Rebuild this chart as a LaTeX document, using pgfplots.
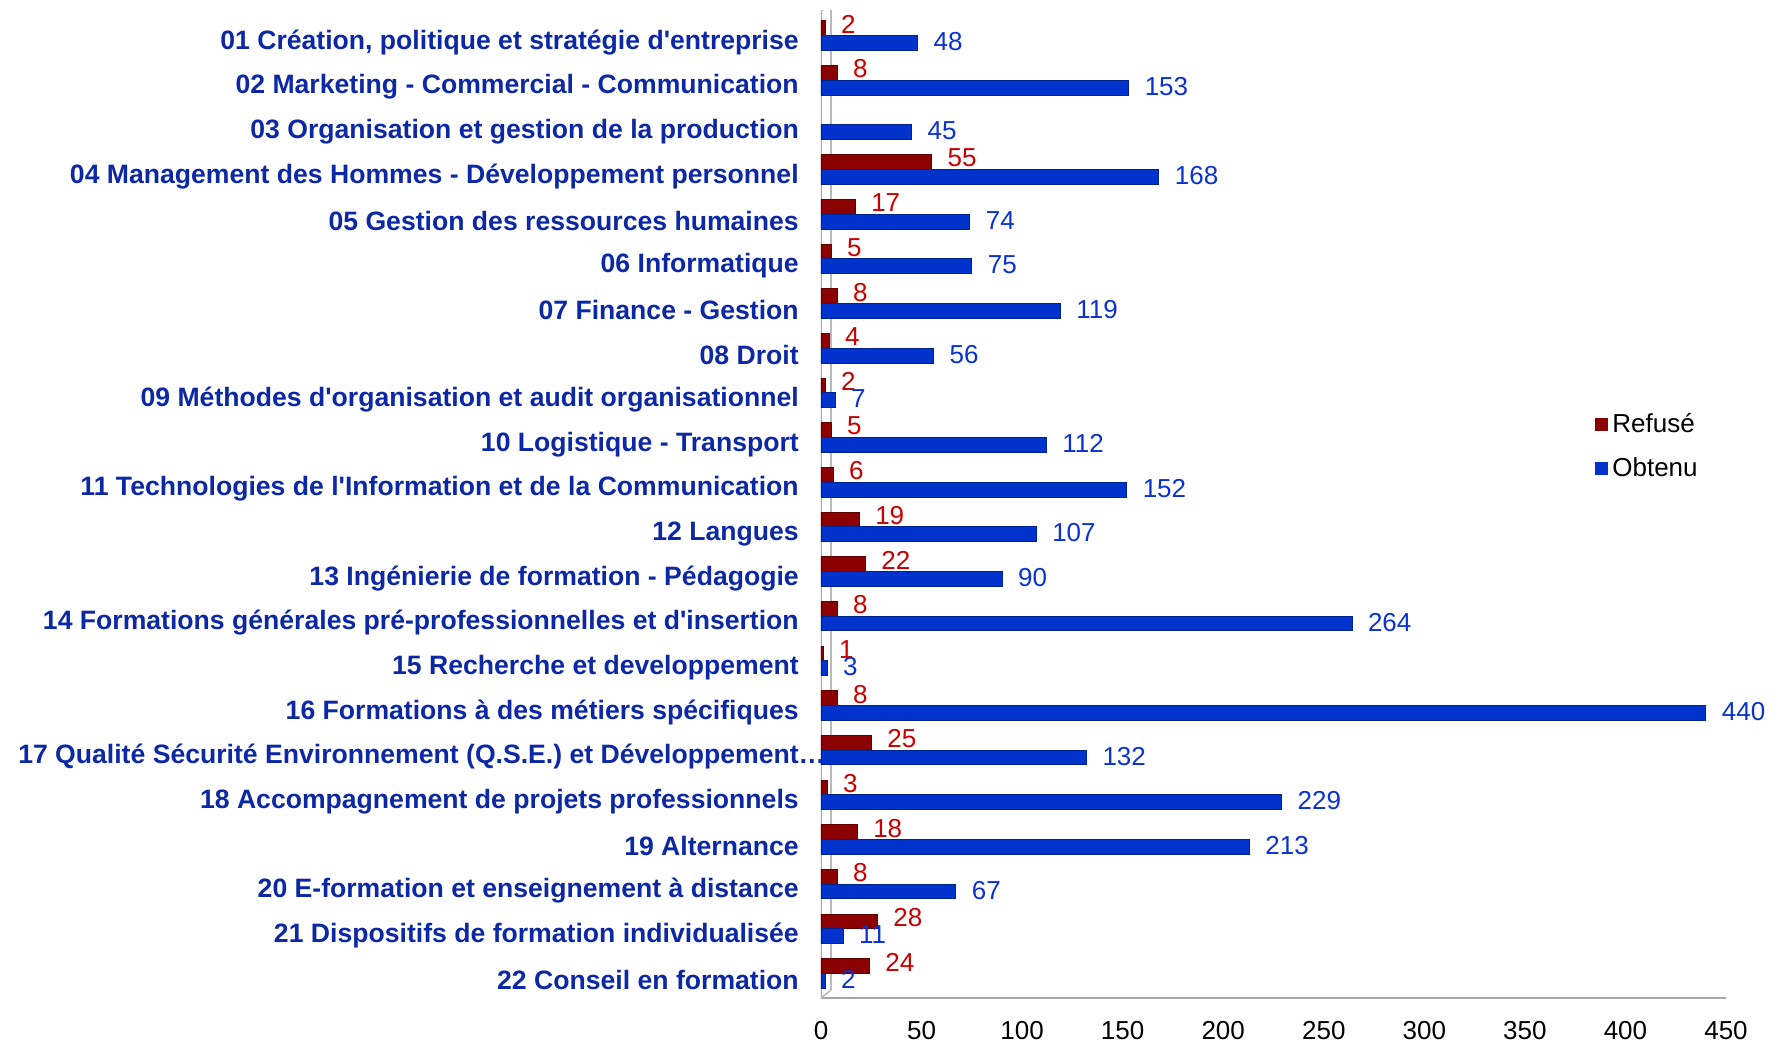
\documentclass[border=0pt]{standalone}
\usepackage{pgfplots}
\pgfplotsset{compat=1.18}
\usepackage{fontspec}
\setmainfont{Liberation Sans}
\definecolor{redbar}{RGB}{139,0,0}
\definecolor{bluebar}{RGB}{0,51,204}
\definecolor{redlab}{RGB}{200,0,0}
\definecolor{bluelab}{RGB}{10,50,210}
\definecolor{catlab}{RGB}{12,40,165}
\newcommand{\q}{\textquotesingle}
\begin{document}
\begin{tikzpicture}
\useasboundingbox (0,0) rectangle (889pt,522pt);
\begin{axis}[
  at={(410.5pt,23pt)}, anchor=south west,
  scale only axis, width=452.5pt, height=493.5pt,
  xmin=0, xmax=450, ymin=-0.55, ymax=21.55, y dir=reverse,
  xtick={0,50,...,450}, ytick={0,...,21},
  yticklabels={{01 Création, politique et stratégie d\q entreprise},
    {02 Marketing - Commercial - Communication},
    {03 Organisation et gestion de la production},
    {04 Management des Hommes - Développement personnel},
    {05 Gestion des ressources humaines},
    {06 Informatique},
    {07 Finance - Gestion},
    {08 Droit},
    {09 Méthodes d\q organisation et audit organisationnel},
    {10 Logistique - Transport},
    {11 Technologies de l\q Information et de la Communication},
    {12 Langues},
    {13 Ingénierie de formation - Pédagogie},
    {14 Formations générales pré-professionnelles et d\q insertion},
    {15 Recherche et developpement},
    {16 Formations à des métiers spécifiques},
    {17 Qualité Sécurité Environnement (Q.S.E.) et Développement\rlap{…}},
    {18 Accompagnement de projets professionnels},
    {19 Alternance},
    {20 E-formation et enseignement à distance},
    {21 Dispositifs de formation individualisée},
    {22 Conseil en formation}},
  major tick length=0pt,
  axis line style={draw=none},
  /pgf/number format/assume math mode=true,
  yticklabel style={font=\bfseries\fontsize{13.3}{15}\selectfont, text=catlab, xshift=-7.6pt, yshift=-3.4pt},
  xticklabel style={font=\fontsize{13}{15}\selectfont, text=black, yshift=-8pt},
  bar width=0.33,
  legend style={at={(0.855,0.559)}, anchor=west, draw=none, fill=none,
    font=\fontsize{13}{15}\selectfont, row sep=7pt, inner sep=0pt},
  legend cell align=left,
  legend image code/.code={\fill[#1,draw=none] (0pt,-3.3pt) rectangle (6.6pt,3.3pt);},
]
\draw[gray!70, line width=1.2pt] (axis description cs:0,0) -- (axis description cs:0,1);
\draw[gray!55, line width=0.8pt] ([xshift=5pt,yshift=4pt]axis description cs:0,0) -- ([xshift=5pt,yshift=3pt]axis description cs:0,1) -- (axis description cs:0,1);
\draw[gray!70, line width=1.2pt] (axis description cs:0,0) -- (axis description cs:1,0);
\draw[gray!55, line width=0.8pt] (axis description cs:0,0) -- ([xshift=5pt,yshift=4pt]axis description cs:0,0);
\addplot[xbar, fill=redbar, draw=redbar!70!black, line width=0.4pt, bar shift=-0.165,
  nodes near coords, nodes near coords style={text=redlab, font=\fontsize{13}{15}\selectfont, xshift=4.5pt, yshift=5.7pt}]
  coordinates {(2,0) (8,1) (55,3) (17,4) (5,5) (8,6) (4,7) (2,8) (5,9) (6,10) (19,11) (22,12) (8,13) (1,14) (8,15) (25,16) (3,17) (18,18) (8,19) (28,20) (24,21)};
\addlegendentry{Refusé}
\addplot[xbar, fill=bluebar, draw=bluebar!70!black, line width=0.4pt, bar shift=0.165,
  nodes near coords, nodes near coords style={text=bluelab, font=\fontsize{13}{15}\selectfont, xshift=4.5pt, yshift=-3pt}]
  coordinates {(48,0) (153,1) (45,2) (168,3) (74,4) (75,5) (119,6) (56,7) (7,8) (112,9) (152,10) (107,11) (90,12) (264,13) (3,14) (440,15) (132,16) (229,17) (213,18) (67,19) (11,20) (2,21)};
\addlegendentry{Obtenu}
\end{axis}
\end{tikzpicture}
\end{document}
